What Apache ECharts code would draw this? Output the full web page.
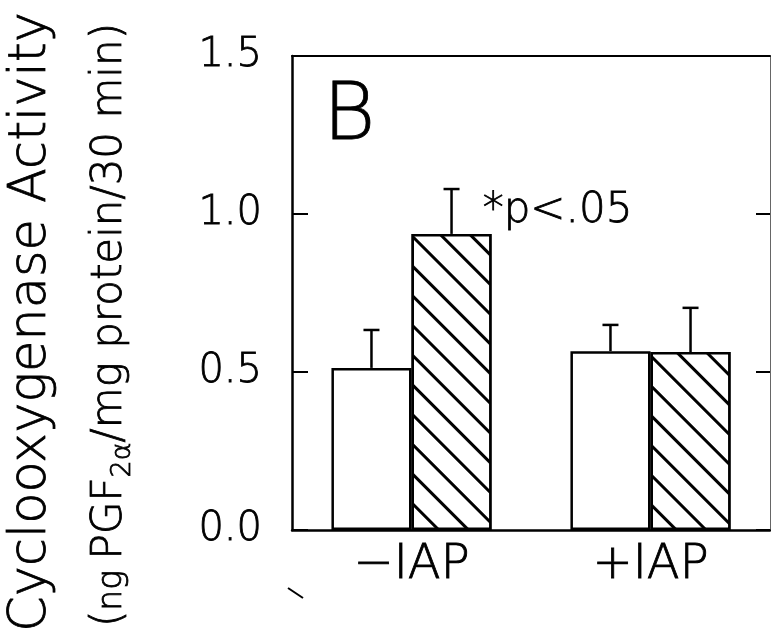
<!DOCTYPE html>
<html><head><meta charset="utf-8">
<script src="https://cdn.jsdelivr.net/npm/echarts@6/dist/echarts.min.js"></script>
<style>html,body{margin:0;padding:0;background:#fff}#c{width:771px;height:640px}</style>
</head><body><div id="c"></div>
<script>
// ---- data ----
const categories = ['\u2212IAP', '+IAP'];
const openMeans = [0.513, 0.566];      // open bars
const openUpper = [0.633, 0.649];      // top of error bar
const hatchMeans = [0.937, 0.563];     // hatched bars
const hatchUpper = [1.079, 0.703];     // top of error bar
const yTickLabels = ['0.0', '0.5', '1.0', '1.5'];
const sigText = '*p<.05';
const panelLetter = 'B';
const yTitle = 'Cyclooxygenase Activity';

const FONT = '"DejaVu Sans ExtraLight", "DejaVu Sans"';
const FW = 200;
const TB = {textBorderColor: '#000', textBorderWidth: 0.8};   // echarts label outline
const GS = {stroke: '#000', lineWidth: 0.8};                    // zrender text outline
const GAP = 0.33;

const errData = [];
for (let i = 0; i < categories.length; i++) {
  errData.push([i, openMeans[i], openUpper[i], -1]);
  errData.push([i, hatchMeans[i], hatchUpper[i], 1]);
}

const chart = echarts.init(document.getElementById('c'), null, {renderer: 'canvas'});
const option = {
  animation: false,
  backgroundColor: '#fff',
  grid: {left: 292, right: 1, top: 56, bottom: 110, containLabel: false},
  xAxis: [{
    type: 'category', data: categories, position: 'bottom',
    axisLine: {show: true, lineStyle: {color: '#000', width: 2.5}},
    axisTick: {show: false},
    axisLabel: Object.assign({color: '#000', fontFamily: FONT, fontWeight: FW, fontSize: 48, margin: 12}, TB)
  }, {
    type: 'category', data: categories, position: 'top',
    axisLine: {show: true, onZero: false, lineStyle: {color: '#000', width: 2}},
    axisTick: {show: false}, axisLabel: {show: false}
  }],
  yAxis: [{
    type: 'value', min: 0, max: 1.5, interval: 0.5, position: 'left',
    axisLine: {show: true, lineStyle: {color: '#000', width: 2.5}},
    axisTick: {show: true, inside: true, length: 16, lineStyle: {color: '#000', width: 2}},
    splitLine: {show: false},
    axisLabel: Object.assign({color: '#000', fontFamily: FONT, fontWeight: FW, fontSize: 40, margin: 30,
      formatter: (v) => yTickLabels[Math.round(v / 0.5)]}, TB)
  }, {
    type: 'value', min: 0, max: 1.5, interval: 0.5, position: 'right',
    axisLine: {show: true, lineStyle: {color: '#666', width: 1}},
    axisTick: {show: true, inside: true, length: 14, lineStyle: {color: '#000', width: 2}},
    splitLine: {show: false}, axisLabel: {show: false}
  }],
  series: [{
    type: 'bar', name: 'open', data: openMeans,
    barGap: '0%', barCategoryGap: (GAP * 100) + '%',
    itemStyle: {color: '#fff', borderColor: '#000', borderWidth: 2.5}
  }, {
    type: 'bar', name: 'hatched',
    data: hatchMeans.map((v, i) => i === 0 ? {
      value: v,
      label: Object.assign({show: true, position: 'top', distance: 2, offset: [106, 0],
        formatter: sigText, color: '#000', fontFamily: FONT, fontWeight: FW, fontSize: 42}, TB)
    } : v),
    barGap: '0%', barCategoryGap: (GAP * 100) + '%',
    itemStyle: {
      color: '#fff', borderColor: '#000', borderWidth: 2.5,
      decal: {symbol: 'rect', symbolSize: 1, color: '#000', backgroundColor: '#fff',
        dashArrayX: [1, 0], dashArrayY: [2.5, 17.5], rotation: Math.PI / 4}
    }
  }, {
    type: 'custom', name: 'err', data: errData, z: 5,
    renderItem: function (params, api) {
      const x = api.value(0), mean = api.value(1), hi = api.value(2), side = api.value(3);
      const band = api.size([1, 0])[0];
      const bw = band * (1 - GAP) / 2;
      const base = api.coord([x, mean]);
      const top = api.coord([x, hi]);
      const cx = base[0] + side * bw / 2;
      return {type: 'group', children: [
        {type: 'line', shape: {x1: cx, y1: base[1], x2: cx, y2: top[1]}, style: {stroke: '#000', lineWidth: 2.5}},
        {type: 'line', shape: {x1: cx - 8, y1: top[1], x2: cx + 8, y2: top[1]}, style: {stroke: '#000', lineWidth: 2.5}}
      ]};
    }
  }],
  graphic: [
    {type: 'text', x: 32, y: 322, rotation: Math.PI / 2,
      style: Object.assign({text: yTitle, fontFamily: FONT, fontWeight: FW, fontSize: 51, fill: '#000', textAlign: 'center', textVerticalAlign: 'middle'}, GS)},
    {type: 'text', x: 110, y: 325, rotation: Math.PI / 2,
      style: {
        text: '{s|(}{n|ng }{s|PGF}{sub|2\u03b1}{s|/mg protein/30 min)}',
        textAlign: 'center', textVerticalAlign: 'middle', fill: '#000',
        rich: {
          s: Object.assign({fontFamily: FONT, fontWeight: FW, fontSize: 42, lineHeight: 42, verticalAlign: 'top', fill: '#000'}, GS),
          n: Object.assign({fontFamily: FONT, fontWeight: FW, fontSize: 33, lineHeight: 33, verticalAlign: 'top', padding: [7, 0, 0, 0], fill: '#000'}, GS),
          sub: Object.assign({fontFamily: FONT, fontWeight: FW, fontSize: 27, lineHeight: 27, verticalAlign: 'top', padding: [20, 0, 0, 0], fill: '#000'}, GS)
        }
      }},
    {type: 'text', x: 323, y: 118,
      style: Object.assign({text: panelLetter, fontFamily: FONT, fontWeight: FW, fontSize: 80, fill: '#000', textAlign: 'left', textVerticalAlign: 'middle'}, GS)},
    {type: 'line', shape: {x1: 288, y1: 588, x2: 303, y2: 598}, style: {stroke: '#000', lineWidth: 2}}
  ]
};
chart.setOption(option);
</script>
</body></html>
